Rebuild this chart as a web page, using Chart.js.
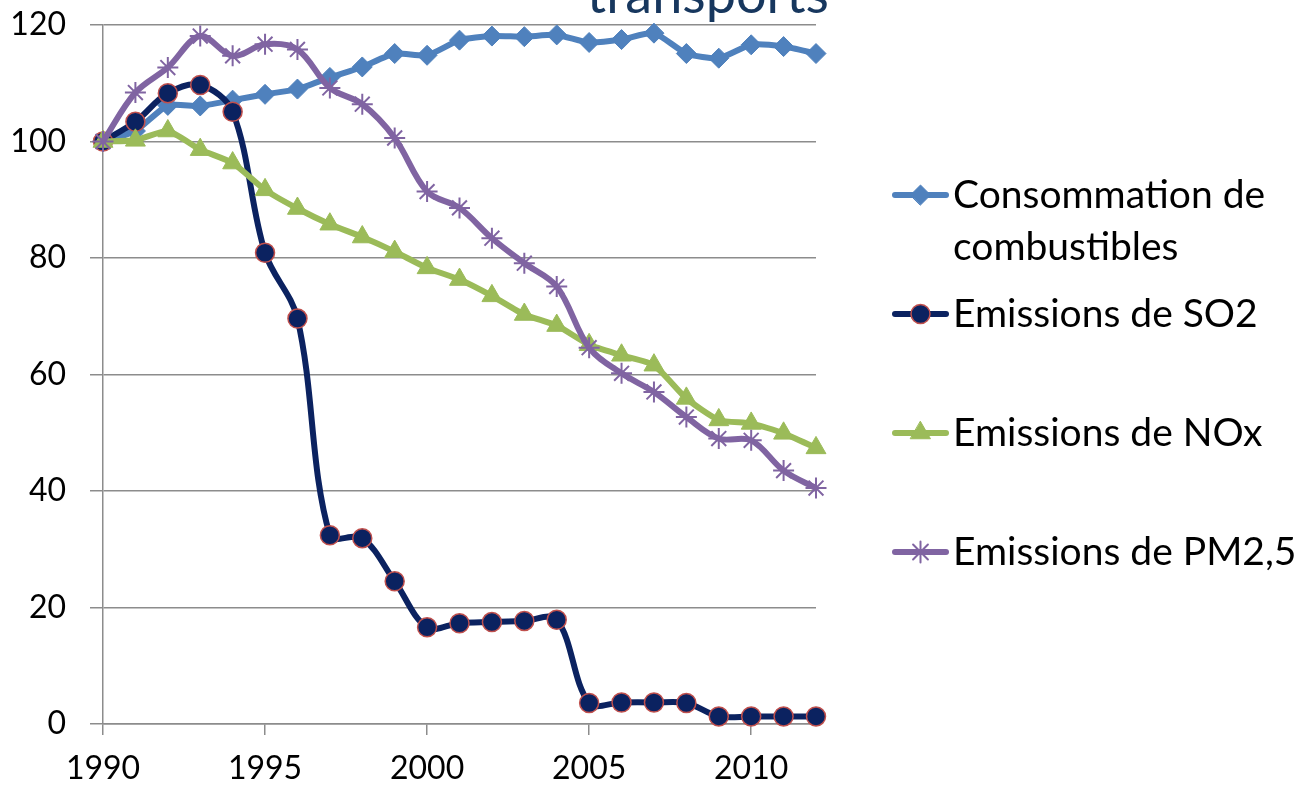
<!DOCTYPE html>
<html>
<head>
<meta charset="utf-8">
<script src="https://cdn.jsdelivr.net/npm/chart.js@4.4.1/dist/chart.umd.min.js"></script>
<style>
  html, body { margin: 0; padding: 0; background: #ffffff; }
  #wrap { width: 1299px; height: 788px; position: relative; }
</style>
</head>
<body>
<div id="wrap"><canvas id="c" width="1299" height="788"></canvas></div>
<script>
const years = [1990,1991,1992,1993,1994,1995,1996,1997,1998,1999,2000,2001,2002,2003,2004,2005,2006,2007,2008,2009,2010,2011,2012];
const consommation = [100, 101.8, 106.2, 106.1, 107.1, 108.1, 109.0, 111.0, 112.8, 115.1, 114.8, 117.4, 118.1, 118.0, 118.3, 117.0, 117.5, 118.6, 115.1, 114.3, 116.6, 116.3, 115.1];
const so2 = [100, 103.4, 108.3, 109.7, 105.1, 80.9, 69.6, 32.4, 31.9, 24.5, 16.6, 17.3, 17.5, 17.7, 17.9, 3.6, 3.7, 3.7, 3.6, 1.3, 1.3, 1.3, 1.3];
const nox = [100, 100.2, 101.8, 98.6, 96.3, 91.7, 88.5, 85.8, 83.6, 81.1, 78.3, 76.3, 73.5, 70.3, 68.4, 65.1, 63.3, 61.6, 55.9, 52.2, 51.6, 49.9, 47.4];
const pm25 = [100, 108.4, 112.7, 118.1, 114.7, 116.7, 115.8, 109.2, 106.4, 100.6, 91.4, 88.6, 83.4, 79.1, 75.1, 64.6, 60.2, 57.0, 52.7, 49.0, 48.7, 43.5, 40.5];
const seriesNames = [["Consommation de", "combustibles"], ["Emissions de SO2"], ["Emissions de NOx"], ["Emissions de PM2,5"]];
const yTicks = [0, 20, 40, 60, 80, 100, 120];
const xTicks = [1990, 1995, 2000, 2005, 2010];
const titleText = "transports";

const toPts = arr => arr.map((v, i) => ({ x: years[i], y: v }));

Chart.defaults.font.family = "Lato, 'Open Sans', sans-serif";
Chart.defaults.color = "#000000";

const GRID = "#8c8c8c";

const legendPlugin = {
  id: "customLegend",
  afterDraw(chart) {
    const ctx = chart.ctx;
    const rows = [195, 314, 433, 552];
    chart.data.datasets.forEach((ds, i) => {
      const y = rows[i];
      ctx.save();
      ctx.strokeStyle = ds.borderColor;
      ctx.lineWidth = ds.borderWidth;
      ctx.lineCap = "round";
      ctx.beginPath();
      ctx.moveTo(895, y);
      ctx.lineTo(946, y);
      ctx.stroke();
      ctx.fillStyle = ds.pointBackgroundColor;
      ctx.strokeStyle = ds.pointBorderColor;
      ctx.lineWidth = ds.pointBorderWidth;
      Chart.helpers.drawPoint(ctx, { pointStyle: ds.pointStyle, radius: ds.pointRadius, rotation: ds.pointRotation || 0, borderWidth: ds.pointBorderWidth }, 920.5, y);
      ctx.fillStyle = "#000000";
      ctx.font = "39px Lato, 'Open Sans', sans-serif";
      ctx.textBaseline = "middle";
      ctx.textAlign = "left";
      seriesNames[i].forEach((line, k) => ctx.fillText(line, 953, y + k * 52));
      ctx.restore();
    });
  }
};

const titlePlugin = {
  id: "cutTitle",
  afterDraw(chart) {
    const ctx = chart.ctx;
    ctx.save();
    ctx.fillStyle = "#17375E";
    ctx.font = "54px Lato, 'Open Sans', sans-serif";
    ctx.textBaseline = "alphabetic";
    ctx.textAlign = "right";
    ctx.fillText(titleText, 829, 13);
    ctx.restore();
  }
};

const common = { borderWidth: 6, pointRadius: 10, pointHoverRadius: 10, clip: false, fill: false };

new Chart(document.getElementById("c"), {
  type: "line",
  data: {
    datasets: [
      Object.assign({}, common, {
        label: seriesNames[0].join(" "), data: toPts(consommation), order: 4,
        borderColor: "#4F81BD", pointBackgroundColor: "#4F81BD", pointBorderColor: "#4F81BD",
        pointStyle: "rectRot", pointRadius: 10, pointBorderWidth: 1, tension: 0.2
      }),
      Object.assign({}, common, {
        label: seriesNames[1][0], data: toPts(so2), order: 3,
        borderColor: "#0B2260", pointBackgroundColor: "#0B2260", pointBorderColor: "#C0504D",
        pointStyle: "circle", pointRadius: 9.5, pointBorderWidth: 1.5, tension: 0.35
      }),
      Object.assign({}, common, {
        label: seriesNames[2][0], data: toPts(nox), order: 2,
        borderColor: "#9BBB59", pointBackgroundColor: "#9BBB59", pointBorderColor: "#9BBB59",
        pointStyle: "triangle", pointRadius: 11.5, pointBorderWidth: 1, tension: 0.2
      }),
      Object.assign({}, common, {
        label: seriesNames[3][0], data: toPts(pm25), order: 1,
        borderColor: "#8064A2", pointBackgroundColor: "#8064A2", pointBorderColor: "#8064A2",
        pointStyle: "star", pointRadius: 10.5, pointBorderWidth: 2, tension: 0.35
      })
    ]
  },
  options: {
    responsive: false,
    animation: false,
    devicePixelRatio: 1,
    layout: { padding: { top: 25, right: 483, left: 0, bottom: 0 } },
    plugins: { legend: { display: false }, tooltip: { enabled: false }, title: { display: false } },
    scales: {
      x: {
        type: "linear", min: 1990, max: 2012,
        afterFit(s) { s.height = 64; s.paddingLeft = 0; s.paddingRight = 0; },
        afterBuildTicks(s) { s.ticks = xTicks.map(v => ({ value: v })); },
        ticks: { font: { size: 32 }, padding: 14, maxRotation: 0, autoSkip: false, color: "#000", callback: v => String(v) },
        grid: { drawOnChartArea: false, drawTicks: true, tickLength: 11, color: GRID, lineWidth: 1.5 },
        border: { display: true, color: GRID, width: 1.5 }
      },
      y: {
        min: 0, max: 120,
        afterFit(s) { s.width = 103; s.paddingTop = 0; s.paddingBottom = 0; },
        afterBuildTicks(s) { s.ticks = yTicks.map(v => ({ value: v })); },
        ticks: { font: { size: 32 }, padding: 24, color: "#000", callback: v => String(v) },
        grid: { color: GRID, lineWidth: 1.5, tickLength: 13, drawTicks: true },
        border: { display: true, color: GRID, width: 1.5 }
      }
    }
  },
  plugins: [titlePlugin, legendPlugin]
});
</script>
</body>
</html>
